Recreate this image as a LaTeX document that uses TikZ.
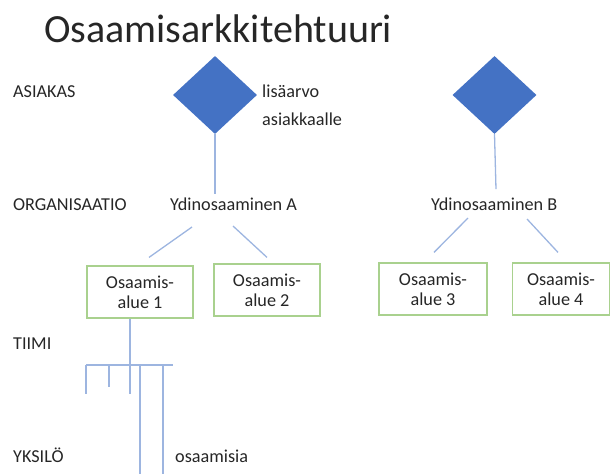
\documentclass[tikz,border=0pt]{standalone}
\usepackage{fontspec}
\setmainfont{Carlito}
\usepackage{xcolor}
\usetikzlibrary{positioning}
\usetikzlibrary{shapes.geometric}
\usetikzlibrary{calc}
\definecolor{gemblue}{HTML}{4472C4}
\definecolor{linkblue}{HTML}{9DB5E0}
\definecolor{areagreen}{HTML}{A9D18E}
\definecolor{inkgray}{HTML}{262626}

\begin{document}
\begin{tikzpicture}[
    x=1pt, y=-1pt,
    txt/.style={anchor=base west, inner sep=0pt, text=inkgray, font=\fontsize{18.2}{20}\selectfont},
    gem/.style={diamond, fill=gemblue, minimum width=84pt, minimum height=78pt, inner sep=0pt},
    area/.style={draw=areagreen, line width=1.2pt, minimum height=52pt, inner sep=0pt, align=center, text=inkgray, font=\fontsize{18.2}{20}\selectfont},
    link/.style={draw=linkblue, line width=1.3pt}
]
    \useasboundingbox (0,0) rectangle (613,474);

    % Title
    \node[anchor=base west, inner sep=0pt, text=inkgray, font=\fontsize{40}{44}\selectfont] (title) at (44,42) {Osaamisarkkitehtuuri};

    % Levels
    \node[txt] (asiakas) at (13,97) {ASIAKAS};
    \node[txt] (org) at (13,210) {ORGANISAATIO};
    \node[txt] (tiimi) at (13,349) {TIIMI};
    \node[txt] (yksilo) at (13,462) {YKSILÖ};

    % Customer value
    \node[gem] (gemA) at (215,95) {};
    \node[gem] (gemB) at (494.5,95) {};
    \node[txt] (lisa) at (262,97) {lisäarvo};
    \node[txt] (asiak) at (262,125) {asiakkaalle};

    % Core competences
    \node[txt] (ydinA) at (170,210) {Ydinosaaminen A};
    \node[txt] (ydinB) at (431,210) {Ydinosaaminen B};

    % Competence areas
    \node[area, minimum width=106pt] (alue1) at (140,292) {Osaamis-\\alue 1};
    \node[area, minimum width=106pt] (alue2) at (267,290) {Osaamis-\\alue 2};
    \node[area, minimum width=108pt] (alue3) at (433,289) {Osaamis-\\alue 3};
    \node[area, minimum width=97pt] (alue4) at (561,289) {Osaamis-\\alue 4};

    % Individuals
    \node[txt] (osaamisia) at (175,462) {osaamisia};
    \coordinate (team) at (130,365);

    % Connections
    \draw[link] (gemA.south) -- ($(gemA.south)+(0,60)$);
    \draw[link] (gemB.south) -- ($(gemB.south)+(1.5,55)$);
    \draw[link] ($(ydinA.base west)+(22,17)$) -- ($(alue1.north)+(9,-8)$);
    \draw[link] ($(ydinA.base west)+(63,16)$) -- ($(alue2.north)+(0,-6)$);
    \draw[link] ($(ydinB.base west)+(37,8)$) -- ($(alue3.north)+(1,-10)$);
    \draw[link] ($(ydinB.base west)+(96,9)$) -- ($(alue4.north)+(-3,-10)$);

    % Team tree
    \draw[link] (alue1.south -| team) -- (team);
    \draw[link] ($(team)+(-44,0)$) -- ($(team)+(43,0)$);
    \draw[link] ($(team)+(-44,0)$) -- ++(0,29);
    \draw[link] ($(team)+(-21,0)$) -- ++(0,22);
    \draw[link] (team) -- ++(0,29);
    \draw[link] ($(team)+(10,0)$) -- (140,474);
    \draw[link] ($(team)+(33,0)$) -- (163,474);
\end{tikzpicture}
\end{document}
